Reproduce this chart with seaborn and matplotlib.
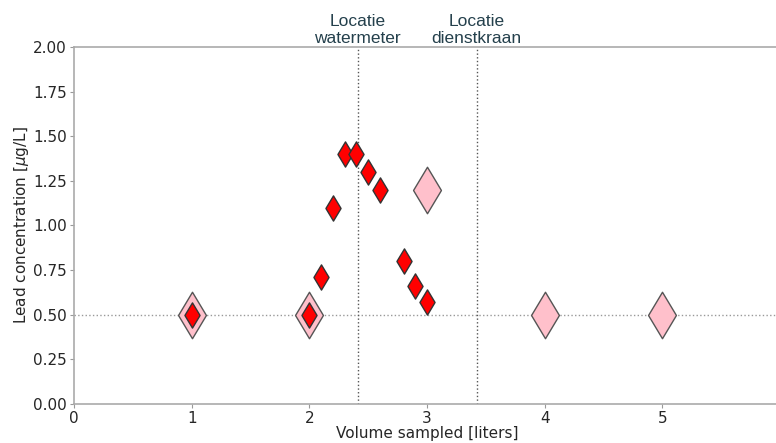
import matplotlib
matplotlib.use("Agg")
import matplotlib.pyplot as plt
import seaborn as sns
import pandas as pd

# reference samples (large pink diamonds)
ref_volume = [1, 2, 3, 4, 5]
ref_lead = [0.5, 0.5, 1.2, 0.5, 0.5]

# detailed samples (small red diamonds)
fine_volume = [1, 2, 2.1, 2.2, 2.3, 2.4, 2.5, 2.6, 2.8, 2.9, 3.0]
fine_lead = [0.5, 0.5, 0.71, 1.1, 1.4, 1.4, 1.3, 1.2, 0.8, 0.66, 0.57]

# locations along the pipe
loc_x = [2.41, 3.42]
loc_labels = ["Locatie\nwatermeter", "Locatie\ndienstkraan"]
detection_limit = 0.5

sns.set_style("white")
plt.rcParams["font.size"] = 11

fig = plt.figure(figsize=(7.76, 4.43), dpi=100)
ax = fig.add_axes([0.0954, 0.088, 0.91, 0.806])

ref_df = pd.DataFrame({"volume": ref_volume, "lead": ref_lead})
fine_df = pd.DataFrame({"volume": fine_volume, "lead": fine_lead})

ax.axhline(detection_limit, color="#999999", linestyle=":", linewidth=1, zorder=1)
for x in loc_x:
    ax.axvline(x, color="#555555", linestyle=":", linewidth=1, zorder=1)

sns.scatterplot(data=ref_df, x="volume", y="lead", marker="d", s=560,
                color="pink", edgecolor="#555555", linewidth=1, ax=ax, zorder=2)
sns.scatterplot(data=fine_df, x="volume", y="lead", marker="d", s=165,
                color="red", edgecolor="#333333", linewidth=1, ax=ax, zorder=3)

for x, lab in zip(loc_x, loc_labels):
    ax.text(x, 2.005, lab, ha="center", va="bottom", fontsize=12.5,
            family="Liberation Sans", color="#24404c", linespacing=1.15)

ax.set_xlim(0, 6)
ax.set_ylim(0, 2)
ax.set_yticks([0, 0.25, 0.5, 0.75, 1.0, 1.25, 1.5, 1.75, 2.0])
ax.set_yticklabels([f"{v:.2f}" for v in ax.get_yticks()])
ax.set_xticks(range(7))
ax.set_xlabel("Volume sampled [liters]", fontsize=11, labelpad=0)
ax.set_ylabel("Lead concentration [$\\mu$g/L]", fontsize=11, labelpad=2)
ax.tick_params(axis="both", labelsize=11, length=3, pad=2, color="#999999", left=True, bottom=True)
for side in ["top", "left", "bottom", "right"]:
    ax.spines[side].set_color("#aaaaaa")
    ax.spines[side].set_linewidth(1.2)

fig.savefig("out.png", dpi=100)
